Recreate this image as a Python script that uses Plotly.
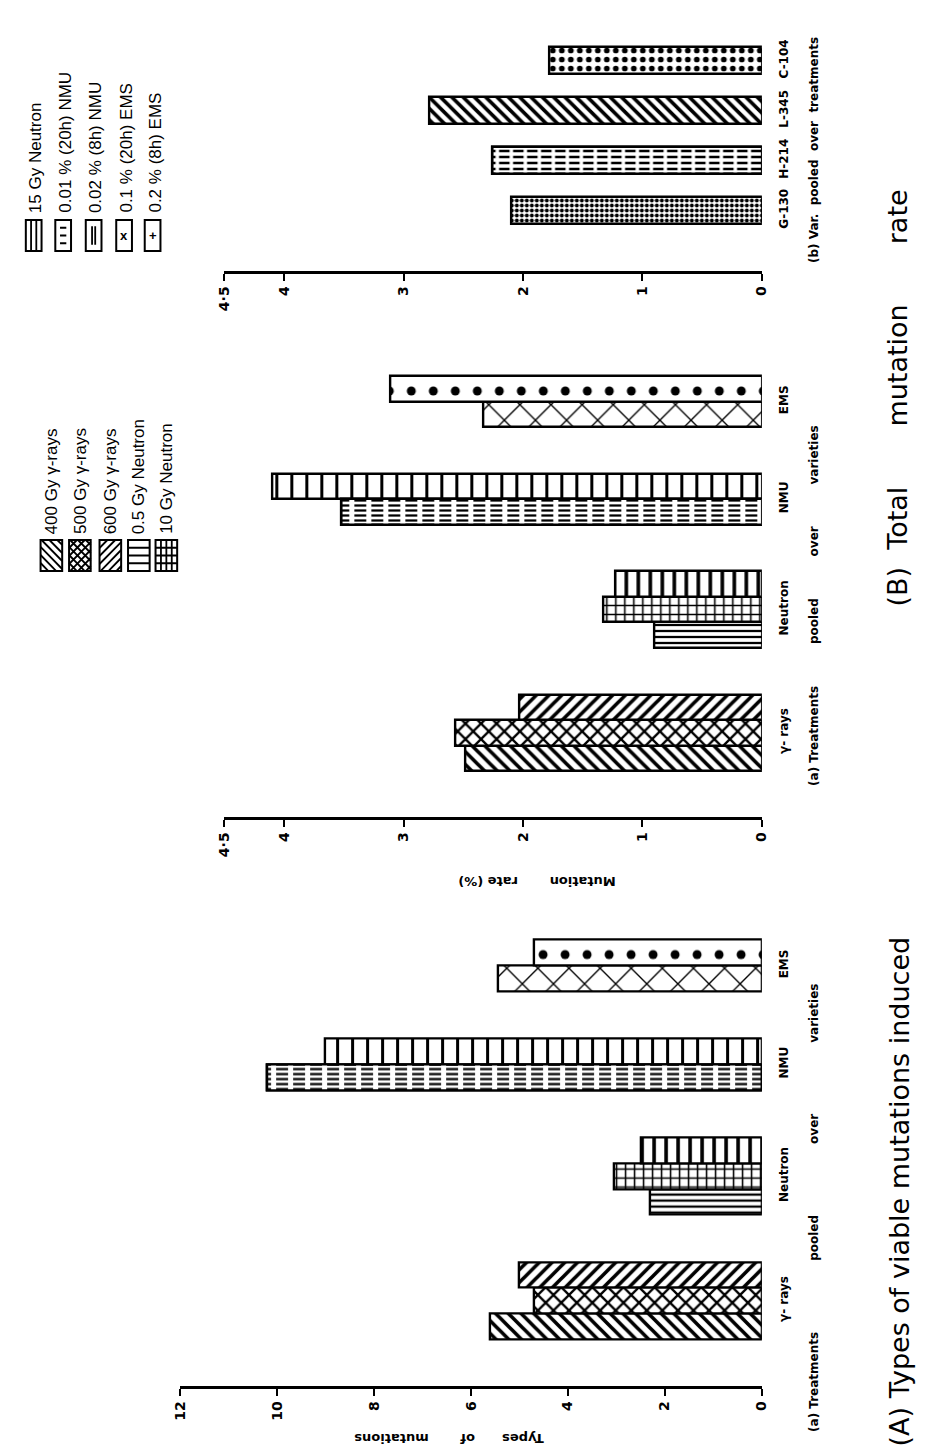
import plotly.graph_objects as go

# ---------------- data ----------------
treatments = ["γ- rays", "Neutron", "NMU", "EMS"]
gamma_series = ["400 Gy γ-rays", "500 Gy γ-rays", "600 Gy γ-rays"]
neutron_series = ["0.5 Gy Neutron", "10 Gy Neutron", "15 Gy Neutron"]
nmu_series = ["0.01 % (20h) NMU", "0.02 % (8h) NMU"]
ems_series = ["0.1 % (20h) EMS", "0.2 % (8h) EMS"]

# (A) Types of viable mutations induced
types_gamma = [5.6, 4.7, 5.0]
types_neutron = [2.3, 3.05, 2.5]
types_nmu = [10.2, 9.0]
types_ems = [5.45, 4.7]

# (B)(a) Mutation rate (%) - treatments pooled over varieties
rate_gamma = [2.48, 2.57, 2.03]
rate_neutron = [0.90, 1.33, 1.23]
rate_nmu = [3.52, 4.10]
rate_ems = [2.33, 3.11]

# (B)(b) Mutation rate (%) - varieties pooled over treatments
varieties = ["G-130", "H-214", "L-345", "C-104"]
variety_rate = [2.10, 2.26, 2.78, 1.78]

types_ticks = [0, 2, 4, 6, 8, 10, 12]
rate_ticks = [0, 1, 2, 3, 4, 4.5]
rate_ticktext = ["0", "1", "2", "3", "4", "4·5"]

# ---------------- styles ----------------
W, H = 925, 1450


def px(x):
    return x / W


def py(y):
    return 1 - y / H


pattern_style = {
    "400 Gy γ-rays": ("\\", 9, 0.4),
    "500 Gy γ-rays": ("x", 11, 0.38),
    "600 Gy γ-rays": ("/", 9, 0.4),
    "0.5 Gy Neutron": ("-", 6, 0.38),
    "10 Gy Neutron": ("+", 9, 0.32),
    "15 Gy Neutron": ("|", 12, 0.3),
    "0.01 % (20h) NMU": ("-", 5, 0.45),
    "0.02 % (8h) NMU": ("|", 15, 0.2),
    "0.1 % (20h) EMS": ("x", 22, 0.12),
    "0.2 % (8h) EMS": (".", 22, 0.13),
}
# white stripes drawn over some fills to break lines into dashes
chop_style = {
    "0.01 % (20h) NMU": ("|", 17, 0.3),
}
variety_style = {
    "G-130": (".", 5, 0.5),
    "H-214": ("-", 6, 0.42),
    "L-345": ("\\", 8, 0.45),
    "C-104": (".", 9, 0.32),
}
variety_chop = {
    "H-214": ("|", 14, 0.25),
}

BOLD = "DejaVu Sans"
fig = go.Figure()


def grouped_positions(groups, start, gap):
    centers, ticks = [], []
    pos = start
    for g in groups:
        c = [pos + i + 0.5 for i in range(len(g))]
        centers.append(c)
        ticks.append(pos + len(g) / 2)
        pos += len(g) + gap
    return centers, ticks


series_groups = [gamma_series, neutron_series, nmu_series, ems_series]


def bar_trace(xs, ys, shapes, sizes, sols, xa, ya, fg="black", bg="white", fill="white"):
    return go.Bar(
        x=xs, y=ys, orientation="h", width=1, xaxis=xa, yaxis=ya,
        marker=dict(color=fill, line=dict(color="black", width=2.4),
                    pattern=dict(shape=shapes, size=sizes, solidity=sols,
                                 fgcolor=fg, fgopacity=1, bgcolor=bg, fillmode="overlay")),
        showlegend=False, hoverinfo="skip")


def add_treatment_panel(values_groups, xa, ya):
    centers, ticks = grouped_positions(series_groups, 1.8, 1.83)
    xs, ys, shapes, sizes, sols = [], [], [], [], []
    cx, cy, cs, csz, cso = [], [], [], [], []
    for names, vals, cents in zip(series_groups, values_groups, centers):
        for n, v, c in zip(names, vals, cents):
            xs.append(v)
            ys.append(c)
            s, sz, so = pattern_style[n]
            shapes.append(s)
            sizes.append(sz)
            sols.append(so)
            if n in chop_style:
                s2, sz2, so2 = chop_style[n]
                cx.append(v)
                cy.append(c)
                cs.append(s2)
                csz.append(sz2)
                cso.append(so2)
    fig.add_trace(bar_trace(xs, ys, shapes, sizes, sols, xa, ya))
    if cx:
        fig.add_trace(bar_trace(cx, cy, cs, csz, cso, xa, ya, fg="white",
                                bg="rgba(0,0,0,0)", fill="rgba(0,0,0,0)"))
    return ticks


ticks_A = add_treatment_panel([types_gamma, types_neutron, types_nmu, types_ems], "x", "y")
ticks_Ba = add_treatment_panel([rate_gamma, rate_neutron, rate_nmu, rate_ems], "x2", "y2")

vcenters, vticks = grouped_positions([[v] for v in varieties], 1.74, 0.85)
vpos = [c[0] for c in vcenters]
fig.add_trace(bar_trace(variety_rate, vpos,
                        [variety_style[v][0] for v in varieties],
                        [variety_style[v][1] for v in varieties],
                        [variety_style[v][2] for v in varieties], "x3", "y3"))
chop_idx = [i for i, v in enumerate(varieties) if v in variety_chop]
fig.add_trace(bar_trace([variety_rate[i] for i in chop_idx], [vpos[i] for i in chop_idx],
                        [variety_chop[varieties[i]][0] for i in chop_idx],
                        [variety_chop[varieties[i]][1] for i in chop_idx],
                        [variety_chop[varieties[i]][2] for i in chop_idx], "x3", "y3",
                        fg="white", bg="rgba(0,0,0,0)", fill="rgba(0,0,0,0)"))

tickfont = dict(family=BOLD, size=14, color="black", weight="bold")


def xaxis_cfg(x0, x1, y_anchor, rng, tv, tt):
    return dict(domain=[px(x0), px(x1)], anchor=y_anchor, range=rng,
                tickvals=tv, ticktext=tt, tickangle=-90, tickfont=tickfont,
                showline=True, linecolor="black", linewidth=2.5,
                ticks="outside", ticklen=7, tickwidth=2, tickcolor="black",
                showgrid=False, zeroline=False, fixedrange=True)


def yaxis_cfg(bottom, unit, top_units, x_anchor, tv, tt):
    return dict(domain=[py(bottom), py(bottom - unit * top_units)], anchor=x_anchor,
                range=[0, top_units], side="right", tickvals=tv, ticktext=tt,
                tickangle=-90, tickfont=dict(family=BOLD, size=12, color="black", weight="bold"),
                ticks="", showline=False, showgrid=False, zeroline=False,
                ticklabelstandoff=13, fixedrange=True)


fig.update_layout(
    width=W, height=H, margin=dict(l=0, r=0, t=0, b=0),
    paper_bgcolor="white", plot_bgcolor="rgba(0,0,0,0)",
    bargap=0, barmode="overlay",
    xaxis=xaxis_cfg(167, 759, "y", [12, 0], types_ticks, [str(t) for t in types_ticks]),
    yaxis=yaxis_cfg(1378, 25.8, 18, "x", ticks_A, treatments),
    xaxis2=xaxis_cfg(212, 759, "y2", [4.5, 0], rate_ticks, rate_ticktext),
    yaxis2=yaxis_cfg(809, 25.5, 18, "x2", ticks_Ba, treatments),
    xaxis3=xaxis_cfg(212, 759, "y3", [4.5, 0], rate_ticks, rate_ticktext),
    yaxis3=yaxis_cfg(263, 27, 9, "x3", vticks, varieties),
)

# ---------------- legends (drawn as decoration) ----------------
shapes = []
annotations = []


def clip(x0, y0, x1, y1, rx0, ry0, rx1, ry1):
    dx, dy = x1 - x0, y1 - y0
    u0, u1 = 0.0, 1.0
    for p, q in ((-dx, x0 - rx0), (dx, rx1 - x0), (-dy, y0 - ry0), (dy, ry1 - y0)):
        if p == 0:
            if q < 0:
                return None
        else:
            t = q / p
            if p < 0:
                u0 = max(u0, t)
            else:
                u1 = min(u1, t)
    if u0 > u1:
        return None
    return (x0 + u0 * dx, y0 + u0 * dy, x0 + u1 * dx, y0 + u1 * dy)


def seg_path(segs):
    parts = []
    for (a, b, c, d) in segs:
        parts.append("M %.5f %.5f L %.5f %.5f" % (px(a), py(b), px(c), py(d)))
    return " ".join(parts)


def swatch(x0, y0, w, h, kind):
    x1, y1 = x0 + w, y0 + h
    segs = []
    step = 8
    if kind in ("\\", "x"):
        k = -h
        while k < w:
            s = clip(x0 + k, y0, x0 + k + h, y1, x0, y0, x1, y1)
            if s:
                segs.append(s)
            k += step
    if kind in ("/", "x"):
        k = -h
        while k < w:
            s = clip(x0 + k, y1, x0 + k + h, y0, x0, y0, x1, y1)
            if s:
                segs.append(s)
            k += step
    if kind in ("-", "+"):
        n = 4
        for i in range(1, n):
            yy = y0 + h * i / n
            segs.append((x0, yy, x1, yy))
    if kind in ("|", "+"):
        n = 4 if kind == "+" else 3
        for i in range(1, n):
            xx = x0 + w * i / n
            segs.append((xx, y0, xx, y1))
    if kind == "dash_h":
        for i in range(1, 4):
            yy = y0 + h * i / 4
            segs.append((x0 + w * 0.3, yy, x1 - w * 0.3, yy))
    if kind == "dash_v":
        for i in (0.4, 0.6):
            segs.append((x0 + w * i, y0 + h * 0.2, x0 + w * i, y1 - h * 0.2))
    shapes.append(dict(type="rect", xref="paper", yref="paper",
                       x0=px(x0), x1=px(x1), y0=py(y1), y1=py(y0),
                       line=dict(color="black", width=2), fillcolor="white"))
    if segs:
        shapes.append(dict(type="path", xref="paper", yref="paper", path=seg_path(segs),
                           line=dict(color="black", width=1.8)))
    if kind in ("xsym", "plussym"):
        annotations.append(dict(xref="paper", yref="paper", x=px((x0 + x1) / 2), y=py((y0 + y1) / 2),
                                text="<b>%s</b>" % ("x" if kind == "xsym" else "+"),
                                showarrow=False, font=dict(family="Liberation Sans", size=13, color="black"),
                                xanchor="center", yanchor="middle"))


legend1 = [("400 Gy γ-rays", "\\"), ("500 Gy γ-rays", "x"), ("600 Gy γ-rays", "/"),
           ("0.5 Gy Neutron", "-"), ("10 Gy Neutron", "+")]
leg1_x = [36, 65, 96, 125, 153]
for (name, kind), cx in zip(legend1, leg1_x):
    swatch(cx - 11, 532, 22, 31, kind)
    annotations.append(dict(xref="paper", yref="paper", x=px(cx), y=py(528), text=name,
                            textangle=-90, showarrow=False, xanchor="center", yanchor="bottom",
                            font=dict(family="Liberation Sans", size=17, color="black")))

legend2 = [("15 Gy Neutron", "|"), ("0.01 % (20h) NMU", "dash_h"), ("0.02 % (8h) NMU", "dash_v"),
           ("0.1 % (20h) EMS", "xsym"), ("0.2 % (8h) EMS", "plussym")]
leg2_x = [18, 48, 79, 110, 139]
for (name, kind), cx in zip(legend2, leg2_x):
    swatch(cx - 8, 212, 16, 31, kind)
    annotations.append(dict(xref="paper", yref="paper", x=px(cx + 2), y=py(207), text=name,
                            textangle=-90, showarrow=False, xanchor="center", yanchor="bottom",
                            font=dict(family="Liberation Sans", size=17, color="black")))

NB = "\u00a0"


def sp(n):
    return NB * n


small = dict(family=BOLD, size=12, color="black")
axt = dict(family=BOLD, size=13, color="black")
big = dict(family="DejaVu Sans", size=27, color="black")
texts = [
    ("<b>Mutation" + sp(7) + "rate (%)</b>", 530, 874, 180, axt, "middle"),
    ("<b>Types" + sp(6) + "of" + sp(7) + "mutations</b>", 440, 1431, 180, axt, "middle"),
    ("<b>(a) Treatments" + sp(17) + "pooled" + sp(17) + "over" + sp(17) + "varieties</b>",
     812, 1200, -90, small, "middle"),
    ("<b>(a) Treatments" + sp(10) + "pooled" + sp(10) + "over" + sp(10) + "varieties</b>",
     812, 597, -90, small, "middle"),
    ("<b>(b) Var." + sp(2) + "pooled" + sp(2) + "over" + sp(2) + "treatments</b>",
     812, 142, -90, small, "middle"),
    ("(A) Types of viable mutations induced", 899, 1440, -90, big, "bottom"),
    ("(B)" + sp(2) + "Total" + sp(7) + "mutation" + sp(7) + "rate", 896, 390, -90, big, "middle"),
]
for t, x, y, ang, f, ya in texts:
    annotations.append(dict(xref="paper", yref="paper", x=px(x), y=py(y), text=t, textangle=ang,
                            showarrow=False, xanchor="center", yanchor=ya, font=f))

fig.update_layout(shapes=shapes, annotations=annotations)
fig.write_html("out.html")
